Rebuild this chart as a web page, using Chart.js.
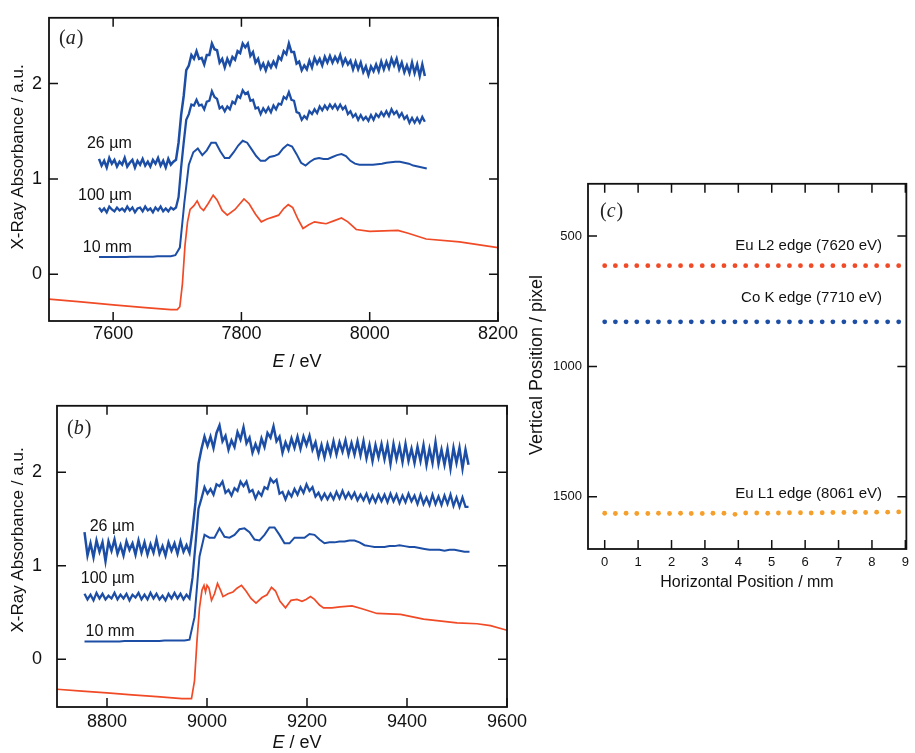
<!DOCTYPE html>
<html>
<head>
<meta charset="utf-8">
<script src="https://cdn.jsdelivr.net/npm/chart.js@4.4.1/dist/chart.umd.min.js"></script>
<style>
  html, body { margin: 0; padding: 0; background: #fff; }
  body { width: 915px; height: 753px; position: relative; overflow: hidden; }
  canvas { position: absolute; }
  #chartA { left: 0; top: 0; }
  #chartB { left: 0; top: 380px; }
  #chartC { left: 520px; top: 170px; }
</style>
</head>
<body>
<canvas id="chartA" width="520" height="378"></canvas>
<canvas id="chartB" width="540" height="373"></canvas>
<canvas id="chartC" width="395" height="430"></canvas>
<script>
// ---- panel (a): Co K edge region ----
// fine energy grid for the noisy thin samples
const noisyEnergyA = [
  7578, 7582, 7586, 7590, 7594, 7598, 7602, 7606, 7610, 7614,
  7618, 7622, 7626, 7630, 7634, 7638, 7642, 7646, 7650, 7654,
  7658, 7662, 7666, 7670, 7674, 7678, 7682, 7686, 7690, 7694,
  7698, 7702, 7706, 7710, 7714, 7718, 7722, 7726, 7730, 7734,
  7738, 7742, 7746, 7750, 7754, 7758, 7762, 7766, 7770, 7774,
  7778, 7782, 7786, 7790, 7794, 7798, 7802, 7806, 7810, 7814,
  7818, 7822, 7826, 7830, 7834, 7838, 7842, 7846, 7850, 7854,
  7858, 7862, 7866, 7870, 7874, 7878, 7882, 7886, 7890, 7894,
  7898, 7902, 7906, 7910, 7914, 7918, 7922, 7926, 7930, 7934,
  7938, 7942, 7946, 7950, 7954, 7958, 7962, 7966, 7970, 7974,
  7978, 7982, 7986, 7990, 7994, 7998, 8002, 8006, 8010, 8014,
  8018, 8022, 8026, 8030, 8034, 8038, 8042, 8046, 8050, 8054,
  8058, 8062, 8066, 8070, 8074, 8078, 8082, 8086];
const a26um = [
  1.21, 1.14, 1.19, 1.12, 1.22, 1.16, 1.20, 1.13, 1.18, 1.15,
  1.22, 1.13, 1.17, 1.20, 1.12, 1.19, 1.15, 1.21, 1.14, 1.18,
  1.13, 1.20, 1.16, 1.22, 1.14, 1.19, 1.12, 1.21, 1.15, 1.18,
  1.20, 1.38, 1.67, 1.87, 2.14, 2.19, 2.30, 2.26, 2.34, 2.26,
  2.27, 2.20, 2.30, 2.30, 2.42, 2.36, 2.35, 2.22, 2.26, 2.17,
  2.26, 2.20, 2.28, 2.25, 2.34, 2.32, 2.42, 2.38, 2.42, 2.29,
  2.33, 2.22, 2.26, 2.16, 2.21, 2.14, 2.22, 2.17, 2.23, 2.18,
  2.28, 2.25, 2.34, 2.31, 2.42, 2.33, 2.33, 2.21, 2.23, 2.14,
  2.19, 2.15, 2.24, 2.17, 2.27, 2.21, 2.26, 2.19, 2.28, 2.22,
  2.29, 2.22, 2.28, 2.23, 2.30, 2.20, 2.26, 2.20, 2.24, 2.15,
  2.23, 2.15, 2.22, 2.12, 2.18, 2.09, 2.18, 2.13, 2.20, 2.13,
  2.23, 2.15, 2.23, 2.16, 2.26, 2.19, 2.26, 2.15, 2.22, 2.12,
  2.19, 2.11, 2.22, 2.11, 2.20, 2.08, 2.20, 2.08];
const a100um = [
  0.70, 0.66, 0.69, 0.65, 0.71, 0.68, 0.66, 0.70, 0.67, 0.69,
  0.66, 0.71, 0.67, 0.70, 0.65, 0.69, 0.70, 0.66, 0.71, 0.67,
  0.69, 0.65, 0.70, 0.67, 0.71, 0.66, 0.69, 0.66, 0.70, 0.68,
  0.70, 0.81, 1.12, 1.38, 1.62, 1.68, 1.78, 1.77, 1.83, 1.77,
  1.78, 1.73, 1.81, 1.82, 1.92, 1.86, 1.84, 1.74, 1.76, 1.71,
  1.76, 1.73, 1.81, 1.79, 1.87, 1.85, 1.93, 1.89, 1.91, 1.82,
  1.83, 1.74, 1.75, 1.68, 1.74, 1.70, 1.75, 1.70, 1.77, 1.73,
  1.79, 1.78, 1.86, 1.84, 1.91, 1.83, 1.82, 1.70, 1.69, 1.62,
  1.66, 1.63, 1.71, 1.68, 1.73, 1.69, 1.76, 1.72, 1.77, 1.73,
  1.78, 1.74, 1.78, 1.73, 1.78, 1.73, 1.76, 1.68, 1.71, 1.65,
  1.68, 1.62, 1.67, 1.62, 1.65, 1.61, 1.67, 1.62, 1.68, 1.65,
  1.70, 1.66, 1.71, 1.66, 1.73, 1.68, 1.71, 1.65, 1.69, 1.63,
  1.66, 1.59, 1.64, 1.59, 1.64, 1.59, 1.65, 1.60];
// coarser grid for the smooth 10 mm sample
const smoothEnergyA = [7578, 7585, 7592, 7599, 7606, 7613, 7620, 7627, 7634, 7641, 7648, 7655, 7662, 7669, 7676, 7683, 7690, 7697,
  7704, 7711, 7718, 7725, 7732, 7739, 7746, 7753, 7760, 7767, 7774, 7781, 7788, 7795, 7802, 7809, 7816, 7823, 7830, 7837,
  7844, 7851, 7858, 7865, 7872, 7879, 7886, 7893, 7900, 7907, 7914, 7921, 7928, 7935, 7942, 7949, 7956, 7963, 7970, 7977,
  7984, 7991, 7998, 8005, 8012, 8019, 8026, 8033, 8040, 8047, 8054, 8061, 8068, 8075, 8082, 8089];
const a10mm = [0.18, 0.18, 0.18, 0.18, 0.18, 0.18, 0.18, 0.185, 0.185, 0.185, 0.185, 0.185, 0.185, 0.19, 0.19, 0.19, 0.19, 0.20,
  0.28, 0.75, 1.15, 1.28, 1.32, 1.25, 1.30, 1.38, 1.38, 1.29, 1.22, 1.22, 1.28, 1.35, 1.40, 1.38, 1.31, 1.24, 1.19, 1.19,
  1.23, 1.24, 1.26, 1.32, 1.36, 1.34, 1.26, 1.17, 1.14, 1.18, 1.21, 1.22, 1.21, 1.21, 1.23, 1.25, 1.26, 1.24, 1.19, 1.16,
  1.15, 1.15, 1.15, 1.15, 1.155, 1.16, 1.17, 1.175, 1.18, 1.18, 1.17, 1.16, 1.14, 1.13, 1.12, 1.11];
const refEnergyA = [7500, 7550, 7600, 7650, 7690, 7700, 7704, 7708, 7712, 7716, 7720, 7726, 7731, 7736, 7741, 7748, 7756,
  7762, 7770, 7778, 7790, 7804, 7812, 7822, 7831, 7840, 7849, 7858, 7866, 7873, 7880, 7888, 7896, 7905, 7914, 7923, 7932,
  7944, 7956, 7966, 7979, 8000, 8044, 8060, 8088, 8140, 8200];
const refA = [-0.26, -0.29, -0.32, -0.35, -0.37, -0.37, -0.34, -0.10, 0.30, 0.55, 0.68, 0.72, 0.77, 0.70, 0.67, 0.74, 0.83,
  0.78, 0.67, 0.62, 0.68, 0.79, 0.74, 0.63, 0.55, 0.58, 0.60, 0.62, 0.69, 0.73, 0.70, 0.58, 0.48, 0.52, 0.55, 0.54, 0.53,
  0.56, 0.59, 0.55, 0.47, 0.45, 0.46, 0.43, 0.37, 0.34, 0.28];
const xTicksA = [7600, 7800, 8000, 8200];

// ---- panel (b): Eu L edge region ----
const noisyEnergyB = [
  8755, 8761, 8767, 8773, 8779, 8785, 8791, 8797, 8803, 8809,
  8815, 8821, 8827, 8833, 8839, 8845, 8851, 8857, 8863, 8869,
  8875, 8881, 8887, 8893, 8899, 8905, 8911, 8917, 8923, 8929,
  8935, 8941, 8947, 8953, 8959, 8965, 8971, 8977, 8983, 8989,
  8995, 9001, 9007, 9013, 9019, 9025, 9031, 9037, 9043, 9049,
  9055, 9061, 9067, 9073, 9079, 9085, 9091, 9097, 9103, 9109,
  9115, 9121, 9127, 9133, 9139, 9145, 9151, 9157, 9163, 9169,
  9175, 9181, 9187, 9193, 9199, 9205, 9211, 9217, 9223, 9229,
  9235, 9241, 9247, 9253, 9259, 9265, 9271, 9277, 9283, 9289,
  9295, 9301, 9307, 9313, 9319, 9325, 9331, 9337, 9343, 9349,
  9355, 9361, 9367, 9373, 9379, 9385, 9391, 9397, 9403, 9409,
  9415, 9421, 9427, 9433, 9439, 9445, 9451, 9457, 9463, 9469,
  9475, 9481, 9487, 9493, 9499, 9505, 9511, 9517, 9523];
const b26um = [
  1.36, 1.11, 1.24, 1.09, 1.27, 1.15, 1.25, 1.05, 1.26, 1.16,
  1.28, 1.13, 1.22, 1.11, 1.26, 1.17, 1.24, 1.12, 1.27, 1.14,
  1.25, 1.12, 1.23, 1.14, 1.28, 1.13, 1.21, 1.11, 1.25, 1.16,
  1.24, 1.13, 1.26, 1.15, 1.22, 1.14, 1.38, 1.68, 2.09, 2.25,
  2.38, 2.28, 2.38, 2.26, 2.42, 2.50, 2.33, 2.39, 2.24, 2.34,
  2.27, 2.43, 2.35, 2.48, 2.31, 2.37, 2.21, 2.30, 2.22, 2.36,
  2.27, 2.42, 2.37, 2.49, 2.33, 2.38, 2.21, 2.32, 2.24, 2.36,
  2.26, 2.38, 2.25, 2.38, 2.29, 2.39, 2.24, 2.32, 2.17, 2.29,
  2.16, 2.30, 2.19, 2.33, 2.19, 2.32, 2.22, 2.34, 2.19, 2.31,
  2.19, 2.33, 2.18, 2.33, 2.15, 2.29, 2.12, 2.29, 2.16, 2.30,
  2.14, 2.29, 2.09, 2.30, 2.14, 2.28, 2.11, 2.30, 2.12, 2.25,
  2.10, 2.27, 2.12, 2.29, 2.08, 2.25, 2.10, 2.32, 2.09, 2.24,
  2.08, 2.25, 2.04, 2.26, 2.10, 2.26, 2.04, 2.24, 2.08];
const b100um = [
  0.70, 0.64, 0.69, 0.63, 0.71, 0.65, 0.70, 0.64, 0.68, 0.65,
  0.71, 0.64, 0.69, 0.65, 0.70, 0.63, 0.69, 0.66, 0.71, 0.64,
  0.69, 0.64, 0.71, 0.65, 0.70, 0.64, 0.68, 0.63, 0.70, 0.65,
  0.71, 0.65, 0.70, 0.64, 0.69, 0.65, 0.87, 1.23, 1.61, 1.72,
  1.84, 1.77, 1.82, 1.76, 1.87, 1.85, 1.90, 1.78, 1.81, 1.75,
  1.83, 1.80, 1.90, 1.85, 1.90, 1.79, 1.81, 1.72, 1.79, 1.75,
  1.84, 1.82, 1.93, 1.89, 1.92, 1.77, 1.79, 1.71, 1.79, 1.74,
  1.82, 1.76, 1.84, 1.78, 1.87, 1.80, 1.84, 1.74, 1.78, 1.71,
  1.77, 1.71, 1.77, 1.71, 1.79, 1.72, 1.80, 1.72, 1.78, 1.72,
  1.78, 1.70, 1.76, 1.70, 1.77, 1.68, 1.75, 1.68, 1.76, 1.69,
  1.76, 1.68, 1.77, 1.69, 1.76, 1.67, 1.75, 1.68, 1.77, 1.69,
  1.75, 1.66, 1.76, 1.66, 1.73, 1.65, 1.76, 1.66, 1.74, 1.65,
  1.75, 1.66, 1.76, 1.64, 1.73, 1.63, 1.73, 1.63, 1.63];
const smoothEnergyB = [8755, 8765, 8775, 8785, 8795, 8805, 8815, 8825, 8835, 8845, 8855, 8865, 8875, 8885, 8895, 8905, 8915, 8925,
  8935, 8945, 8955, 8965, 8975, 8985, 8995, 9005, 9015, 9025, 9035, 9045, 9055, 9065, 9075, 9085, 9095, 9105, 9115, 9125,
  9135, 9145, 9155, 9165, 9175, 9185, 9195, 9205, 9215, 9225, 9235, 9245, 9255, 9265, 9275, 9285, 9295, 9305, 9315, 9325,
  9335, 9345, 9355, 9365, 9375, 9385, 9395, 9405, 9415, 9425, 9435, 9445, 9455, 9465, 9475, 9485, 9495, 9505, 9515, 9525];
const b10mm = [0.19, 0.19, 0.19, 0.19, 0.19, 0.19, 0.19, 0.19, 0.195, 0.195, 0.195, 0.195, 0.195, 0.195, 0.195, 0.195,
  0.20, 0.20, 0.20, 0.20, 0.20, 0.21,
  0.45, 1.10, 1.33, 1.30, 1.30, 1.40, 1.31, 1.30, 1.33, 1.39, 1.40, 1.36, 1.28, 1.27, 1.33, 1.41, 1.41, 1.33, 1.24, 1.24,
  1.30, 1.30, 1.30, 1.34, 1.33, 1.28, 1.24, 1.25, 1.25, 1.26, 1.26, 1.27, 1.27, 1.25, 1.22, 1.21, 1.20, 1.20, 1.20, 1.21,
  1.21, 1.22, 1.21, 1.20, 1.20, 1.19, 1.18, 1.17, 1.17, 1.17, 1.16, 1.17, 1.17, 1.16, 1.15, 1.15];
const refEnergyB = [8700, 8750, 8800, 8850, 8900, 8950, 8969, 8975, 8980, 8985, 8990, 8994, 8997, 9000, 9004, 9009, 9015,
  9021, 9027, 9032, 9042, 9052, 9060, 9069, 9078, 9088, 9098, 9110, 9120, 9129, 9137, 9146, 9157, 9168, 9180, 9190, 9198,
  9207, 9215, 9225, 9233, 9250, 9266, 9290, 9310, 9340, 9387, 9433, 9500, 9540, 9567, 9600];
const refB = [-0.32, -0.34, -0.36, -0.38, -0.40, -0.42, -0.42, -0.23, 0.20, 0.55, 0.74, 0.79, 0.72, 0.79, 0.76, 0.63, 0.70,
  0.81, 0.74, 0.67, 0.70, 0.72, 0.76, 0.79, 0.73, 0.65, 0.60, 0.66, 0.69, 0.77, 0.73, 0.62, 0.55, 0.63, 0.64, 0.62, 0.64,
  0.67, 0.64, 0.58, 0.55, 0.55, 0.56, 0.57, 0.54, 0.49, 0.48, 0.43, 0.39, 0.38, 0.36, 0.31];
const xTicksB = [8800, 9000, 9200, 9400, 9600];
const yTicksAbs = [0, 1, 2];

// ---- panel (c): edge positions ----
const posX = [0, 0.32, 0.64, 0.96, 1.29, 1.61, 1.94, 2.27, 2.59, 2.92, 3.24, 3.57, 3.90, 4.22, 4.55, 4.88, 5.20, 5.53,
  5.86, 6.18, 6.51, 6.83, 7.16, 7.49, 7.81, 8.14, 8.47, 8.80];
const euL2 = [614, 614, 614, 614, 614, 614, 614, 614, 614, 614, 614, 614, 614, 614, 614, 614, 614, 614, 614, 614, 614, 614,
  614, 614, 614, 614, 614, 614];
const coK = [829, 829, 829, 829, 829, 829, 829, 829, 829, 829, 829, 829, 829, 829, 829, 829, 829, 829, 829, 829, 829, 829,
  829, 829, 829, 829, 829, 829];
const euL1 = [1563, 1564, 1563, 1564, 1564, 1563, 1564, 1563, 1564, 1564, 1563, 1563, 1567, 1562, 1562, 1563, 1562, 1561,
  1561, 1562, 1561, 1560, 1560, 1559, 1560, 1559, 1559, 1558];
const xTicksC = [0, 1, 2, 3, 4, 5, 6, 7, 8, 9];
const yTicksC = [500, 1000, 1500];

const BLUE = '#1d4ea6';
const RED = '#f04a26';
const ORANGE = '#f5a02c';
const SANS = "'Liberation Sans', Arial, sans-serif";
const SERIF = "'Liberation Serif', 'Times New Roman', serif";

const pts = (xs, ys) => xs.map((v, i) => ({ x: v, y: ys[i] }));

function lineSet(xs, ys, color, width) {
  return { data: pts(xs, ys), showLine: true, borderColor: color, borderWidth: width,
    pointRadius: 0, tension: 0, fill: false };
}

function dotSet(xs, ys, color) {
  return { data: pts(xs, ys), showLine: false, pointRadius: 2.4, pointBorderWidth: 0,
    pointBackgroundColor: color, borderColor: color };
}

// frame, inside ticks on all four sides, titles and labels
const decor = {
  id: 'decor',
  afterDraw(chart, args, o) {
    const { ctx, chartArea: a } = chart;
    const x = chart.scales.x, y = chart.scales.y;
    ctx.save();
    ctx.strokeStyle = '#111';
    ctx.lineWidth = 1.5;
    ctx.beginPath();
    o.ticksX.forEach(v => {
      const px = x.getPixelForValue(v);
      ctx.moveTo(px, a.bottom); ctx.lineTo(px, a.bottom - o.tickLen);
      ctx.moveTo(px, a.top); ctx.lineTo(px, a.top + o.tickLen);
    });
    o.ticksY.forEach(v => {
      const py = y.getPixelForValue(v);
      ctx.moveTo(a.left, py); ctx.lineTo(a.left + o.tickLen, py);
      ctx.moveTo(a.right, py); ctx.lineTo(a.right - o.tickLen, py);
    });
    ctx.stroke();
    ctx.lineWidth = 1.8;
    ctx.strokeRect(a.left, a.top, a.right - a.left, a.bottom - a.top);

    ctx.fillStyle = '#222';
    ctx.textBaseline = 'middle';
    // panel letter: upright brackets, italic letter
    let px = a.left + o.panelDx;
    const py = a.top + o.panelDy;
    [['(', ''], [o.panel, 'italic '], [')', '']].forEach(([t, st]) => {
      ctx.font = `${st}20px ${SERIF}`;
      ctx.textAlign = 'left';
      ctx.fillText(t, px, py);
      px += ctx.measureText(t).width + (st ? 1 : 0);
    });

    // curve labels, anchored in data units
    ctx.fillStyle = '#111';
    o.labels.forEach(l => {
      ctx.font = `${l.size}px ${SANS}`;
      ctx.textAlign = 'right';
      ctx.textBaseline = l.base;
      ctx.fillText(l.text, x.getPixelForValue(l.x), y.getPixelForValue(l.y));
    });

    // x title (may mix italic and upright parts)
    ctx.textBaseline = 'middle';
    ctx.textAlign = 'left';
    const parts = o.xTitle.parts;
    let total = 0;
    parts.forEach(p => { ctx.font = `${p.italic ? 'italic ' : ''}${o.xTitle.size}px ${SANS}`; total += ctx.measureText(p.t).width; });
    let tx = o.xTitle.cx - total / 2;
    parts.forEach(p => {
      ctx.font = `${p.italic ? 'italic ' : ''}${o.xTitle.size}px ${SANS}`;
      ctx.fillText(p.t, tx, o.xTitle.cy);
      tx += ctx.measureText(p.t).width;
    });

    // y title
    ctx.translate(o.yTitle.cx, o.yTitle.cy);
    ctx.rotate(-Math.PI / 2);
    ctx.textAlign = 'center';
    ctx.font = `${o.yTitle.size}px ${SANS}`;
    ctx.fillText(o.yTitle.text, 0, 0);
    ctx.restore();
  }
};

function axis(min, max, tickVals, fontSize, pad, fitFn, extra) {
  return Object.assign({
    type: 'linear', min, max,
    grid: { display: false, drawTicks: false }, border: { display: false },
    afterBuildTicks: s => { s.ticks = tickVals.map(v => ({ value: v })); },
    afterFit: fitFn,
    ticks: { font: { family: SANS, size: fontSize }, color: '#111', padding: pad,
      maxRotation: 0, autoSkip: false, callback: v => String(v) }
  }, extra || {});
}

function baseOptions(pad, scales, decorOpts) {
  return {
    responsive: false, animation: false, events: [],
    layout: { padding: pad, autoPadding: false },
    plugins: { legend: { display: false }, tooltip: { enabled: false }, decor: decorOpts },
    scales
  };
}

new Chart(document.getElementById('chartA'), {
  type: 'scatter',
  data: { datasets: [
    lineSet(smoothEnergyA, a10mm, BLUE, 2),
    lineSet(noisyEnergyA, a100um, BLUE, 2.3),
    lineSet(noisyEnergyA, a26um, BLUE, 2.5),
    lineSet(refEnergyA, refA, RED, 1.7)
  ] },
  options: baseOptions({ top: 13, right: 21, left: 0, bottom: 0 }, {
    x: axis(7500, 8200, xTicksA, 18, 2, s => { s.height = 57; }),
    y: axis(-0.49, 2.69, yTicksAbs, 18, 7, s => { s.width = 49; })
  }, {
    ticksX: xTicksA, ticksY: yTicksAbs, tickLen: 9, panel: 'a', panelDx: 10, panelDy: 21,
    labels: [
      { text: '26 µm', x: 7629, y: 1.32, size: 16, base: 'alphabetic' },
      { text: '100 µm', x: 7629, y: 0.776, size: 16, base: 'alphabetic' },
      { text: '10 mm', x: 7629, y: 0.234, size: 16, base: 'alphabetic' }
    ],
    xTitle: { parts: [{ t: 'E', italic: true }, { t: ' / eV' }], cx: 297, cy: 362, size: 18 },
    yTitle: { text: 'X-Ray Absorbance / a.u.', cx: 18, cy: 157, size: 17 }
  }),
  plugins: [decor]
});

new Chart(document.getElementById('chartB'), {
  type: 'scatter',
  data: { datasets: [
    lineSet(smoothEnergyB, b10mm, BLUE, 2),
    lineSet(noisyEnergyB, b100um, BLUE, 2.3),
    lineSet(noisyEnergyB, b26um, BLUE, 2.5),
    lineSet(refEnergyB, refB, RED, 1.7)
  ] },
  options: baseOptions({ top: 17, right: 33, left: 0, bottom: 0 }, {
    x: axis(8700, 9600, xTicksB, 18, 4, s => { s.height = 46; }),
    y: axis(-0.51, 2.71, yTicksAbs, 18, 15, s => { s.width = 57; })
  }, {
    ticksX: xTicksB, ticksY: yTicksAbs, tickLen: 9, panel: 'b', panelDx: 10, panelDy: 23,
    labels: [
      { text: '26 µm', x: 8855, y: 1.37, size: 16, base: 'alphabetic' },
      { text: '100 µm', x: 8855, y: 0.817, size: 16, base: 'alphabetic' },
      { text: '10 mm', x: 8855, y: 0.253, size: 16, base: 'alphabetic' }
    ],
    xTitle: { parts: [{ t: 'E', italic: true }, { t: ' / eV' }], cx: 297, cy: 363, size: 18 },
    yTitle: { text: 'X-Ray Absorbance / a.u.', cx: 18, cy: 160, size: 17 }
  }),
  plugins: [decor]
});

new Chart(document.getElementById('chartC'), {
  type: 'scatter',
  data: { datasets: [
    dotSet(posX, euL2, RED),
    dotSet(posX, coK, BLUE),
    dotSet(posX, euL1, ORANGE)
  ] },
  options: baseOptions({ top: 7, right: 6, left: 0, bottom: 0 }, {
    x: axis(-0.5, 9.03, xTicksC, 13, 6, s => { s.height = 51; }),
    y: axis(300, 1700, yTicksC, 13, 6, s => { s.width = 68; }, { reverse: true })
  }, {
    ticksX: xTicksC, ticksY: yTicksC, tickLen: 9, panel: 'c', panelDx: 12, panelDy: 28,
    labels: [
      { text: 'Eu L2 edge (7620 eV)', x: 8.3, y: 539, size: 15, base: 'middle' },
      { text: 'Co K edge (7710 eV)', x: 8.3, y: 739, size: 15, base: 'middle' },
      { text: 'Eu L1 edge (8061 eV)', x: 8.3, y: 1488, size: 15, base: 'middle' }
    ],
    xTitle: { parts: [{ t: 'Horizontal Position / mm' }], cx: 227, cy: 413, size: 16 },
    yTitle: { text: 'Vertical Position / pixel', cx: 17, cy: 195, size: 18 }
  }),
  plugins: [decor]
});
</script>
</body>
</html>
